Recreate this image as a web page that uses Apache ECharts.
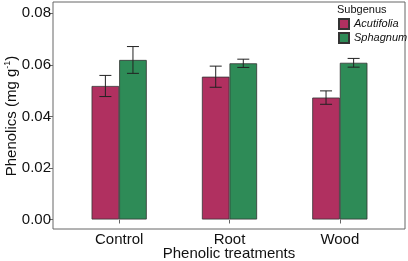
<!DOCTYPE html>
<html>
<head>
<meta charset="utf-8">
<script src="https://cdn.jsdelivr.net/npm/echarts@6/dist/echarts.min.js"></script>
<style>
  html, body { margin: 0; padding: 0; background: #fff; }
  #chart { width: 408px; height: 261px; }
</style>
</head>
<body>
<div id="chart"></div>
<script>
// 处理组和两个亚属的数据
const treatments = ['Control', 'Root', 'Wood'];
const acutifolia = [0.0518, 0.0554, 0.0473];
const acutifoliaErr = [0.0041, 0.0041, 0.0026];
const sphagnum = [0.0619, 0.0606, 0.0608];
const sphagnumErr = [0.0052, 0.0016, 0.0017];
const yTicks = [0, 0.02, 0.04, 0.06, 0.08];

const font = 'Liberation Sans, Arial, sans-serif';
const chart = echarts.init(document.getElementById('chart'));

// 误差线：side = -1 左边的柱子，1 右边的柱子
function errorBars(values, errs, side) {
  return {
    type: 'custom',
    xAxisIndex: 0,
    yAxisIndex: 0,
    z: 10,
    data: values.map((v, i) => [i, v - errs[i], v + errs[i]]),
    renderItem(params, api) {
      const band = api.size([1, 0])[0];
      const lo = api.coord([api.value(0), api.value(1)]);
      const hi = api.coord([api.value(0), api.value(2)]);
      const x = lo[0] + side * band * 0.125;
      const cap = 6;
      const style = { stroke: '#222', lineWidth: 1 };
      return {
        type: 'group',
        children: [
          { type: 'line', shape: { x1: x, y1: lo[1], x2: x, y2: hi[1] }, style },
          { type: 'line', shape: { x1: x - cap, y1: lo[1], x2: x + cap, y2: lo[1] }, style },
          { type: 'line', shape: { x1: x - cap, y1: hi[1], x2: x + cap, y2: hi[1] }, style }
        ]
      };
    }
  };
}

const option = {
  animation: false,
  textStyle: { fontFamily: font },
  grid: [
    { left: 64, right: 13, top: 13.3, bottom: 41.5, outerBoundsMode: 'none', containLabel: false },
    // 外框
    { left: 53, right: 3, top: 2, bottom: 32, outerBoundsMode: 'none', show: true, borderColor: '#666', borderWidth: 1, z: 0 }
  ],
  legend: {
    data: ['Acutifolia', 'Sphagnum'],
    orient: 'vertical',
    left: 338,
    top: 18,
    padding: 0,
    icon: 'rect',
    itemWidth: 10,
    itemHeight: 10,
    itemGap: 2,
    textStyle: { fontFamily: font, fontSize: 11, fontStyle: 'italic', color: '#111' }
  },
  // 图例标题和两个坐标轴标题
  graphic: [
    { type: 'text', left: 337, top: 4, style: { text: 'Subgenus', font: '11px ' + font, fill: '#111' } },
    {
      type: 'text', x: 229, y: 254,
      style: { text: 'Phenolic treatments', font: '15px ' + font, fill: '#111', align: 'center', verticalAlign: 'middle' }
    },
    {
      type: 'text', x: 12, y: 116, rotation: Math.PI / 2,
      style: {
        text: 'Phenolics (mg g{sup|-1})', font: '15px ' + font, fill: '#111',
        align: 'center', verticalAlign: 'middle',
        rich: { sup: { fontSize: 9, fontFamily: font, fill: '#111', verticalAlign: 'top', padding: [0, 0, 8, 0] } }
      }
    }
  ],
  xAxis: [
    {
      type: 'category',
      gridIndex: 0,
      data: treatments,
      offset: 9.5,
      axisLine: { show: false },
      axisTick: { show: true, alignWithLabel: true, length: 4, lineStyle: { color: '#666' } },
      axisLabel: { fontSize: 15, color: '#111', margin: 3 }
    },
    { type: 'value', gridIndex: 1, show: false }
  ],
  yAxis: [
    {
      type: 'value',
      gridIndex: 0,
      min: 0,
      max: 0.08,
      interval: 0.02,
      offset: 11,
      axisLine: { show: false },
      axisTick: { show: true, length: 4, lineStyle: { color: '#666' } },
      splitLine: { show: false },
      axisLabel: {
        fontSize: 15, color: '#111', margin: 2,
        formatter: v => yTicks.includes(+v.toFixed(2)) ? v.toFixed(2) : ''
      }
    },
    { type: 'value', gridIndex: 1, show: false }
  ],
  series: [
    {
      name: 'Acutifolia',
      type: 'bar',
      data: acutifolia,
      barWidth: '25%',
      barGap: '0%',
      itemStyle: { color: '#B03060', borderColor: '#333', borderWidth: 0.8 }
    },
    {
      name: 'Sphagnum',
      type: 'bar',
      data: sphagnum,
      barWidth: '25%',
      barGap: '0%',
      itemStyle: { color: '#2E8B57', borderColor: '#333', borderWidth: 0.8 }
    },
    errorBars(acutifolia, acutifoliaErr, -1),
    errorBars(sphagnum, sphagnumErr, 1)
  ]
};

chart.setOption(option);
</script>
</body>
</html>
